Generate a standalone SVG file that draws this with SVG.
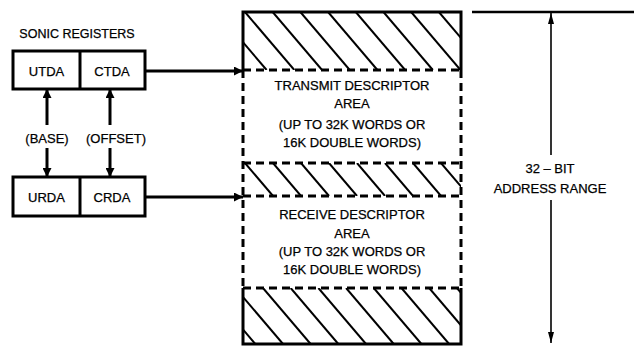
<svg xmlns="http://www.w3.org/2000/svg" width="634" height="346" viewBox="0 0 634 346">
<style>
text{font-family:"Liberation Sans",Arial,sans-serif;font-size:13px;fill:#000;text-anchor:middle;stroke:#000;stroke-width:0.25}
.box{fill:#fff;stroke:#000;stroke-width:3}
.thick{stroke:#000;stroke-width:3;fill:none}
.dash{stroke:#000;stroke-width:3;fill:none;stroke-dasharray:8 5}
.hatch line{stroke:#000;stroke-width:2}
.thin{stroke:#000;stroke-width:1.6;fill:none}
</style>
<defs>
<marker id="ah" markerWidth="9" markerHeight="9" refX="9" refY="4.5" orient="auto" markerUnits="userSpaceOnUse"><path d="M0,0 L9,4.5 L0,9 Z" fill="#000"/></marker>
<marker id="ah2" markerWidth="11" markerHeight="6" refX="11" refY="3" orient="auto" markerUnits="userSpaceOnUse"><path d="M0,0 L11,3 L0,6 Z" fill="#000"/></marker>
<clipPath id="c1"><rect x="243" y="12" width="218" height="58"/></clipPath>
<clipPath id="c2"><rect x="243" y="163" width="218" height="33"/></clipPath>
<clipPath id="c3"><rect x="243" y="288" width="218" height="56"/></clipPath>
</defs>
<rect width="634" height="346" fill="#fff"/>

<g id="memory">
<g class="hatch" clip-path="url(#c1)">
<line x1="189.6" y1="12" x2="238.9" y2="70"/><line x1="217.3" y1="12" x2="266.6" y2="70"/><line x1="245" y1="12" x2="294.3" y2="70"/><line x1="272.7" y1="12" x2="322" y2="70"/><line x1="300.4" y1="12" x2="349.7" y2="70"/><line x1="328.1" y1="12" x2="377.4" y2="70"/><line x1="355.8" y1="12" x2="405.1" y2="70"/><line x1="383.5" y1="12" x2="432.8" y2="70"/><line x1="411.2" y1="12" x2="460.5" y2="70"/><line x1="438.9" y1="12" x2="488.2" y2="70"/>
</g>
<g class="hatch" clip-path="url(#c2)">
<line x1="245" y1="163" x2="273" y2="196"/><line x1="273" y1="163" x2="301" y2="196"/><line x1="301" y1="163" x2="329" y2="196"/><line x1="329" y1="163" x2="357" y2="196"/><line x1="357" y1="163" x2="385" y2="196"/><line x1="385" y1="163" x2="413" y2="196"/><line x1="413" y1="163" x2="441" y2="196"/><line x1="441" y1="163" x2="469" y2="196"/>
</g>
<g class="hatch" clip-path="url(#c3)">
<line x1="180" y1="288" x2="227.6" y2="344"/><line x1="207.7" y1="288" x2="255.3" y2="344"/><line x1="235.4" y1="288" x2="283" y2="344"/><line x1="263" y1="288" x2="310.6" y2="344"/><line x1="290.7" y1="288" x2="338.3" y2="344"/><line x1="318.4" y1="288" x2="366" y2="344"/><line x1="346.1" y1="288" x2="393.7" y2="344"/><line x1="373.8" y1="288" x2="421.4" y2="344"/><line x1="401.5" y1="288" x2="449.1" y2="344"/><line x1="429.2" y1="288" x2="476.8" y2="344"/><line x1="456.9" y1="288" x2="504.5" y2="344"/>
</g>
<path class="thick" d="M243,70 V12 H461 V70 M243,288 V344 H461 V288"/>
<path class="dash" d="M243,70 V288 M461,70 V288 M243,70 H461 M243,163 H461 M243,196 H461 M243,288 H461"/>
<text x="352" y="90">TRANSMIT DESCRIPTOR</text>
<text x="352" y="108">AREA</text>
<text x="352" y="129">(UP TO 32K WORDS OR</text>
<text x="352" y="147">16K DOUBLE WORDS)</text>
<text x="352" y="219">RECEIVE DESCRIPTOR</text>
<text x="352" y="238">AREA</text>
<text x="352" y="256">(UP TO 32K WORDS OR</text>
<text x="352" y="274">16K DOUBLE WORDS)</text>
</g>

<g id="registers">
<text x="77" y="38" style="font-size:12.5px">SONIC REGISTERS</text>
</g>
<g id="tx-regs">
<rect class="box" x="13" y="51" width="132" height="38"/>
<line class="thick" x1="80" y1="51" x2="80" y2="89"/>
<text x="46.5" y="76">UTDA</text>
<text x="112" y="76">CTDA</text>
</g>
<g id="rx-regs">
<rect class="box" x="13" y="177" width="132" height="39"/>
<line class="thick" x1="80" y1="177" x2="80" y2="216"/>
<text x="46.5" y="202">URDA</text>
<text x="112" y="202">CRDA</text>
</g>
<g id="labels">
<text x="47" y="143">(BASE)</text>
<text x="116" y="143">(OFFSET)</text>
</g>
<g id="range">
<text x="550" y="173">32 – BIT</text>
<text x="550" y="193">ADDRESS RANGE</text>
</g>

<g id="connectors">
<line class="thick" x1="145" y1="71" x2="243" y2="71" marker-end="url(#ah)"/>
<line class="thick" x1="145" y1="197" x2="243" y2="197" marker-end="url(#ah)"/>
<line class="thick" x1="47" y1="125" x2="47" y2="89" marker-end="url(#ah)"/>
<line class="thick" x1="110" y1="125" x2="110" y2="89" marker-end="url(#ah)"/>
<line class="thick" x1="47" y1="148" x2="47" y2="177" marker-end="url(#ah)"/>
<line class="thick" x1="110" y1="148" x2="110" y2="177" marker-end="url(#ah)"/>
<line x1="472" y1="12" x2="634" y2="12" stroke="#000" stroke-width="2.5"/>
<line class="thin" x1="551" y1="155" x2="551" y2="13" marker-end="url(#ah2)"/>
<line class="thin" x1="551" y1="200" x2="551" y2="343" marker-end="url(#ah2)"/>
</g>
</svg>
